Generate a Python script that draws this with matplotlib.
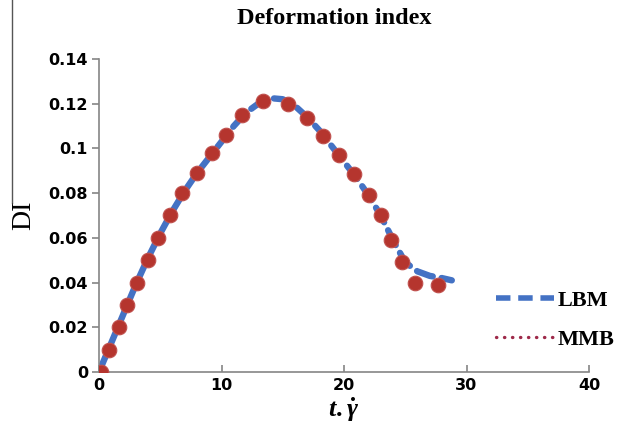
import matplotlib
matplotlib.use("Agg")
import matplotlib.pyplot as plt
from matplotlib.lines import Line2D

# ---- data ----
lbm_x = [0, 1, 2, 3, 4, 5, 6, 7, 8, 9, 10, 11, 12, 13, 14, 15, 16, 17, 18, 19,
         20, 21, 22, 23, 24, 25, 26, 27, 28, 28.8]
lbm_y = [0, 0.013, 0.026, 0.039, 0.051, 0.062, 0.072, 0.081, 0.089, 0.096,
         0.103, 0.110, 0.116, 0.120, 0.1225, 0.122, 0.119, 0.114, 0.108, 0.101,
         0.094, 0.087, 0.079, 0.070, 0.059, 0.049, 0.045, 0.043, 0.042, 0.041]

mmb_x = [0.15, 0.8, 1.6, 2.3, 3.1, 4.0, 4.8, 5.8, 6.8, 8.0, 9.2, 10.4, 11.7,
         13.4, 15.4, 17.0, 18.3, 19.6, 20.8, 22.0, 23.0, 23.8, 24.7, 25.8, 27.7]
mmb_y = [0.0, 0.010, 0.020, 0.030, 0.040, 0.050, 0.060, 0.070, 0.080, 0.089,
         0.098, 0.106, 0.115, 0.121, 0.120, 0.1136, 0.1055, 0.097, 0.0885,
         0.079, 0.070, 0.059, 0.049, 0.040, 0.039]

xticks = [0, 10, 20, 30, 40]
yticks = [0, 0.02, 0.04, 0.06, 0.08, 0.1, 0.12, 0.14]
ytick_labels = ["0", "0.02", "0.04", "0.06", "0.08", "0.1", "0.12", "0.14"]

title = "Deformation index"
series_names = ["LBM", "MMB"]

# ---- style ----
plt.rcParams['mathtext.fontset'] = 'custom'
plt.rcParams['mathtext.it'] = 'Liberation Serif:italic:bold'
plt.rcParams['mathtext.rm'] = 'Liberation Serif:bold'

blue = '#4472C4'
red = '#B5352E'
maroon = '#9E2A4A'
gray = '#858585'

fig = plt.figure(figsize=(6.17, 4.34), dpi=100)
ax = fig.add_axes([99/617, 62/434, 490/617, 313/434])

ax.plot(lbm_x, lbm_y, color=blue, lw=4.6, linestyle=(0, (2.6, 1.4)),
        dash_capstyle='round', zorder=2)
ax.plot(mmb_x, mmb_y, linestyle='none', marker='o', ms=10.5,
        color=red, mec='#C0504D', mew=0.8, zorder=3)

ax.set_xlim(0, 40)
ax.set_ylim(0, 0.14)
ax.set_xticks(xticks)
ax.set_yticks(yticks)
ax.set_yticklabels(ytick_labels)

for s in ['top', 'right']:
    ax.spines[s].set_visible(False)
for s in ['left', 'bottom']:
    ax.spines[s].set_color(gray)
    ax.spines[s].set_linewidth(1.2)

ax.tick_params(axis='y', direction='out', length=5, width=1.2, color=gray, pad=3)
ax.tick_params(axis='x', direction='in', length=5, width=1.2, color=gray, pad=4)
for lab in ax.get_xticklabels() + ax.get_yticklabels():
    lab.set_fontfamily('DejaVu Sans')
    lab.set_fontweight('bold')
    lab.set_fontsize(11.5)

fig.text(334/617, 1 - 18/434, title, ha='center', va='center',
         fontfamily='Liberation Serif', fontweight='bold', fontsize=17.5)
fig.text(24/617, 1 - 215/434, "DI", ha='center', va='center', rotation=90,
         fontfamily='Liberation Serif', fontsize=20)
fig.text(343/617, 1 - 410/434, r"$t.\dot{\gamma}$", ha='center', va='center',
         fontsize=19)

fig.add_artist(Line2D([12/617, 12/617], [1 - 203/434, 1.0], color='#555555', lw=1.0))

handles = [Line2D([], [], color=blue, lw=4.0, linestyle=(0, (2.6, 1.4))),
           Line2D([], [], color=maroon, lw=2.4, linestyle=(0, (0.1, 2.3)),
                  dash_capstyle='round')]
leg = fig.legend(handles, series_names, loc='upper left',
                 bbox_to_anchor=(476/617, 1 - 270/434), frameon=False,
                 handlelength=2.6, handletextpad=0.15, labelspacing=0.85,
                 prop={'family': 'Liberation Serif', 'weight': 'bold', 'size': 16})

fig.savefig("out.png", dpi=100)
